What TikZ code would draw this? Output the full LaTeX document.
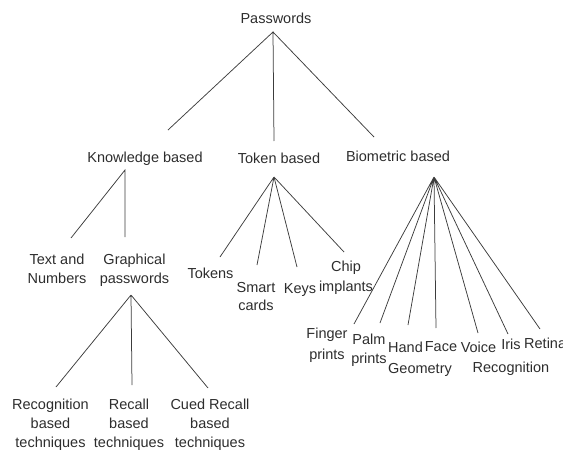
\documentclass[tikz,border=0pt]{standalone}
\usepackage{fontspec}
\setmainfont{Liberation Sans}
\definecolor{txt}{RGB}{45,45,45}
\definecolor{ln}{RGB}{60,60,60}
\begin{document}
\begin{tikzpicture}[x=1pt,y=-1pt,
  lbl/.style={inner sep=0pt,anchor=base,align=center,text=txt,
    font=\fontsize{14.5}{19}\selectfont},
  edge/.style={draw=ln,line width=0.75pt}]
\useasboundingbox (0,0) rectangle (563,450);
\clip (0,0) rectangle (563,450);
% labels (multi-line labels are placed by the baseline of their last line)
\node[lbl] (pw) at (276,23) {Passwords};
\node[lbl] (kb) at (145,162) {Knowledge based};
\node[lbl] (tb) at (279,163) {Token based};
\node[lbl] (bb) at (398,161) {Biometric based};
\node[lbl] (tn) at (57,283) {Text and\\Numbers};
\node[lbl] (gp) at (134.5,283) {Graphical\\passwords};
\node[lbl] (tk) at (210.5,278) {Tokens};
\node[lbl,font=\fontsize{14.5}{18}\selectfont] (sc) at (256,310) {Smart\\cards};
\node[lbl] (ky) at (300,293) {Keys};
\node[lbl,font=\fontsize{14.5}{20}\selectfont] (ci) at (346,291) {Chip\\implants};
\node[lbl,font=\fontsize{14.5}{21}\selectfont] (fp) at (327,359) {Finger\\prints};
\node[lbl] (pp) at (369,363) {Palm\\prints};
\node[lbl,anchor=base west,align=left,font=\fontsize{14.5}{21}\selectfont] (hg) at (388,373) {Hand\\Geometry};
\node[lbl] (fc) at (441,351) {Face};
\node[lbl] (vc) at (478.5,352) {Voice};
\node[lbl,font=\fontsize{14.5}{23}\selectfont] (ir) at (511,372) {Iris\\Recognition};
\node[lbl,anchor=base west] (rt) at (524,348) {Retina};
\node[lbl] (rb) at (50.5,447) {Recognition\\based\\techniques};
\node[lbl] (rc) at (129,447) {Recall\\based\\techniques};
\node[lbl] (cr) at (210,447) {Cued Recall\\based\\techniques};
% connector points
\coordinate (pwA) at (273,32);
\coordinate (kbT) at (168,130);
\coordinate (tbT) at (274,141);
\coordinate (bbT) at (374,137);
\coordinate (kbA) at (125,170);
\coordinate (tnT) at (71,238);
\coordinate (gpT) at (125,237);
\coordinate (tbA) at (274,177);
\coordinate (tkT) at (220,257);
\coordinate (scT) at (257,265);
\coordinate (kyT) at (297,267);
\coordinate (ciT) at (344,252);
\coordinate (bbA) at (434,177);
\coordinate (fpT) at (354,324);
\coordinate (ppT) at (380,323);
\coordinate (hgT) at (408,325);
\coordinate (fcT) at (436,328);
\coordinate (vcT) at (478,333);
\coordinate (irT) at (508,334);
\coordinate (rtT) at (540,329);
\coordinate (gpA) at (131,295);
\coordinate (rbT) at (56,387);
\coordinate (rcT) at (132,385);
\coordinate (crT) at (208,388);
% connectors
\draw[edge] (kbT) -- (pwA) -- (tbT) (pwA) -- (bbT);
\draw[edge] (tnT) -- (kbA) -- (gpT);
\draw[edge] (tbA) -- (tkT) (tbA) -- (scT) (tbA) -- (kyT) (tbA) -- (ciT);
\draw[edge] (bbA) -- (fpT) (bbA) -- (ppT) (bbA) -- (hgT) (bbA) -- (fcT)
  (bbA) -- (vcT) (bbA) -- (irT) (bbA) -- (rtT);
\draw[edge] (gpA) -- (rbT) (gpA) -- (rcT) (gpA) -- (crT);
\end{tikzpicture}
\end{document}
